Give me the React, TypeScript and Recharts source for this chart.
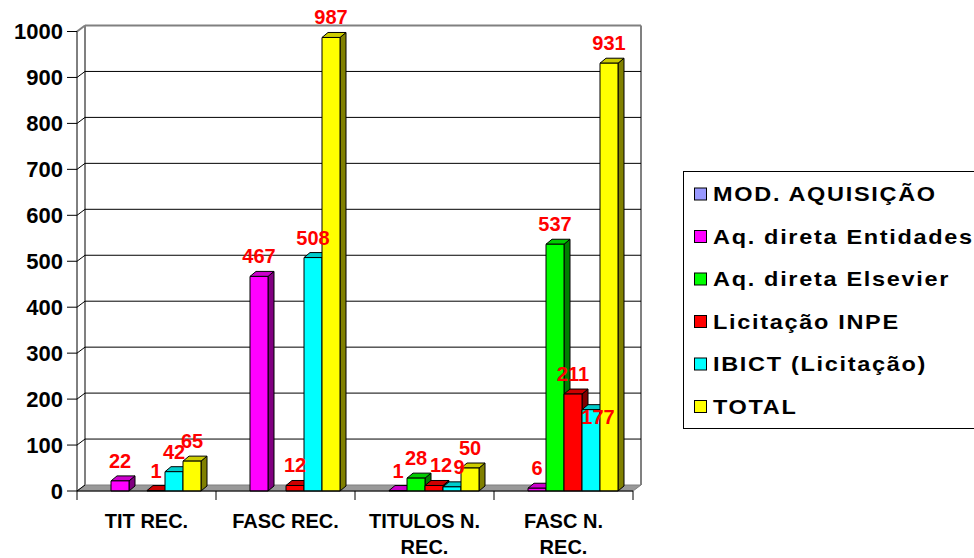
import React from "react";
import {
  BarChart,
  Bar,
  XAxis,
  YAxis,
  CartesianGrid,
  LabelList,
  Customized,
} from "recharts";

// categories and series values
const categories = ["TIT REC.", "FASC REC.", "TITULOS N. REC.", "FASC N. REC."];
const modAquisicao: (number | null)[] = [null, null, null, null];
const aqDiretaEntidades = [22, 467, 1, 6];
const aqDiretaElsevier: (number | null)[] = [null, null, 28, 537];
const licitacaoInpe = [1, 12, 12, 211];
const ibictLicitacao = [42, 508, 9, 177];
const total = [65, 987, 50, 931];
const yTicks = [0, 100, 200, 300, 400, 500, 600, 700, 800, 900, 1000];

const series = [
  { key: "mod", name: "MOD. AQUISIÇÃO", values: modAquisicao, front: "#9999FF", top: "#7A7ACC", side: "#4D4D80" },
  { key: "ent", name: "Aq. direta Entidades", values: aqDiretaEntidades, front: "#FF00FF", top: "#CC00CC", side: "#800080" },
  { key: "els", name: "Aq. direta Elsevier", values: aqDiretaElsevier, front: "#00FF00", top: "#00CC00", side: "#008000" },
  { key: "inpe", name: "Licitação INPE", values: licitacaoInpe, front: "#FF0000", top: "#CC0000", side: "#800000" },
  { key: "ibict", name: "IBICT (Licitação)", values: ibictLicitacao, front: "#00FFFF", top: "#00CCCC", side: "#008080" },
  { key: "total", name: "TOTAL", values: total, front: "#FFFF00", top: "#CCCC00", side: "#808000" },
];

const data = categories.map((name, i) => {
  const row: Record<string, string | number | null> = { name };
  series.forEach((s) => (row[s.key] = s.values[i]));
  return row;
});

// layout
const W = 974;
const H = 558;
const PLOT_LEFT = 77;
const PLOT_RIGHT = 633;
const PLOT_TOP = 31.5;
const PLOT_BOTTOM = 491;
const WALL_DX = 8;
const WALL_DY = 6;
const BAR_DX = 6;
const BAR_DY = 5;
const FONT = "'Liberation Sans', Arial, sans-serif";
const WALL_GRAY = "#808080";
const PX_PER_UNIT = (PLOT_BOTTOM - PLOT_TOP) / 1000;

function wrapLabel(text: string, max: number) {
  const lines: string[] = [];
  let cur = "";
  text.split(" ").forEach((w) => {
    const next = cur ? cur + " " + w : w;
    if (next.length > max && cur) {
      lines.push(cur);
      cur = w;
    } else cur = next;
  });
  if (cur) lines.push(cur);
  return lines;
}

function GridLine(props: any) {
  const { x1, x2, y1 } = props;
  const by = y1 - WALL_DY;
  const isFloor = Math.abs(y1 - PLOT_BOTTOM) < 0.5;
  const isTop = Math.abs(y1 - PLOT_TOP) < 0.5;
  if (isFloor) {
    return (
      <g>
        <polygon
          points={`${x1},${y1} ${x2},${y1} ${x2 + WALL_DX},${by} ${x1 + WALL_DX},${by}`}
          fill="#999999"
          stroke={WALL_GRAY}
          strokeWidth={1}
        />
        <line x1={x1 + WALL_DX} y1={PLOT_TOP - WALL_DY} x2={x1 + WALL_DX} y2={by} stroke={WALL_GRAY} strokeWidth={2} />
        <line x1={x2 + WALL_DX} y1={PLOT_TOP - WALL_DY} x2={x2 + WALL_DX} y2={by} stroke={WALL_GRAY} strokeWidth={2} />
        <line x1={x1} y1={y1} x2={x1 + WALL_DX} y2={by} stroke="#000" strokeWidth={1} />
      </g>
    );
  }
  const stroke = isTop ? WALL_GRAY : "#000";
  const sw = isTop ? 2 : 1;
  return (
    <g>
      <line x1={x1} y1={y1} x2={x1 + WALL_DX} y2={by} stroke={stroke} strokeWidth={sw} />
      <line x1={x1 + WALL_DX} y1={by} x2={x2 + WALL_DX} y2={by} stroke={stroke} strokeWidth={sw} />
    </g>
  );
}

function makeBar3D(s: (typeof series)[number]) {
  return (props: any) => {
    const { x, y, width, height, payload } = props;
    if (payload == null || payload[s.key] == null) return <g />;
    const x2 = x + width;
    const y2 = y + height;
    return (
      <g stroke="#000" strokeWidth={1} strokeLinejoin="round">
        <polygon
          points={`${x2},${y} ${x2 + BAR_DX},${y - BAR_DY} ${x2 + BAR_DX},${y2 - BAR_DY} ${x2},${y2}`}
          fill={s.side}
        />
        <polygon
          points={`${x},${y} ${x + BAR_DX},${y - BAR_DY} ${x2 + BAR_DX},${y - BAR_DY} ${x2},${y}`}
          fill={s.top}
        />
        <rect x={x} y={y} width={width} height={height} fill={s.front} />
      </g>
    );
  };
}

// labels sit above the bar; when the previous series' label is close by,
// nudge right (or drop inside the bar top for tall bars), like Excel does
function makeLabel(seriesIdx: number) {
  return (props: any) => {
    const { x, y, width, height, value, index } = props;
    if (value == null) return null;
    const prev = seriesIdx > 0 ? series[seriesIdx - 1].values[index] : null;
    const near = prev != null && prev > value && (prev - value) * PX_PER_UNIT < 22;
    const inside = near && height > 30;
    return (
      <text
        x={x + width / 2 + (near ? 7 : 0)}
        y={inside ? y + 14 : y - 13}
        textAnchor="middle"
        fill="#FF0000"
        fontFamily={FONT}
        fontWeight="bold"
        fontSize={20}
      >
        {value}
      </text>
    );
  };
}

function YTick(props: any) {
  const { x, y, payload } = props;
  return (
    <text x={x} y={y} textAnchor="end" dominantBaseline="central" fontFamily={FONT} fontWeight="bold" fontSize={22} fill="#000">
      {payload.value}
    </text>
  );
}

function XTick(props: any) {
  const { x, payload, index } = props;
  const band = (PLOT_RIGHT - PLOT_LEFT) / categories.length;
  const lines = wrapLabel(payload.value, 10);
  return (
    <g>
      <line x1={x - band / 2} y1={PLOT_BOTTOM} x2={x - band / 2} y2={PLOT_BOTTOM + 9} stroke="#000" />
      {index === categories.length - 1 && (
        <line x1={x + band / 2} y1={PLOT_BOTTOM} x2={x + band / 2} y2={PLOT_BOTTOM + 9} stroke="#000" />
      )}
      <text x={x} y={528} textAnchor="middle" fontFamily={FONT} fontWeight="bold" fontSize={20} fill="#000">
        {lines.map((l, i) => (
          <tspan key={i} x={x} dy={i === 0 ? 0 : 26}>
            {l}
          </tspan>
        ))}
      </text>
    </g>
  );
}

function LegendBox() {
  return (
    <g>
      <rect x={683.5} y={171.5} width={330} height={257} fill="#fff" stroke="#000" strokeWidth={1} />
      {series.map((s, i) => {
        const cy = 194 + i * 42.5;
        return (
          <g key={s.key}>
            <rect x={694.5} y={cy - 6} width={12} height={12} fill={s.front} stroke="#000" strokeWidth={1} />
            <text
              transform={`translate(713, ${cy}) scale(1.12, 1)`}
              dominantBaseline="central"
              fontFamily={FONT}
              fontWeight="bold"
              fontSize={21}
              letterSpacing={1.5}
              fill="#000"
            >
              {s.name}
            </text>
          </g>
        );
      })}
    </g>
  );
}

export default function App() {
  return (
    <div style={{ position: "absolute", left: 0, top: 0, width: W, height: H, background: "#fff", overflow: "hidden" }}>
      <BarChart
        width={W}
        height={H}
        data={data}
        margin={{ top: PLOT_TOP, right: W - PLOT_RIGHT, bottom: 0, left: 0 }}
        barSize={18}
        barGap={0}
      >
        <CartesianGrid horizontal={GridLine} vertical={false} />
        <XAxis
          dataKey="name"
          height={H - PLOT_BOTTOM}
          axisLine={{ stroke: "#000" }}
          tickLine={false}
          tick={XTick}
          interval={0}
        />
        <YAxis
          width={PLOT_LEFT}
          domain={[0, 1000]}
          ticks={yTicks}
          interval={0}
          axisLine={{ stroke: "#000" }}
          tickLine={{ stroke: "#000" }}
          tickSize={10}
          tickMargin={4}
          tick={YTick}
        />
        {series.map((s, si) => (
          <Bar key={s.key} dataKey={s.key} name={s.name} fill={s.front} shape={makeBar3D(s)} isAnimationActive={false}>
            <LabelList dataKey={s.key} content={makeLabel(si)} />
          </Bar>
        ))}
        <Customized component={LegendBox} />
      </BarChart>
    </div>
  );
}
